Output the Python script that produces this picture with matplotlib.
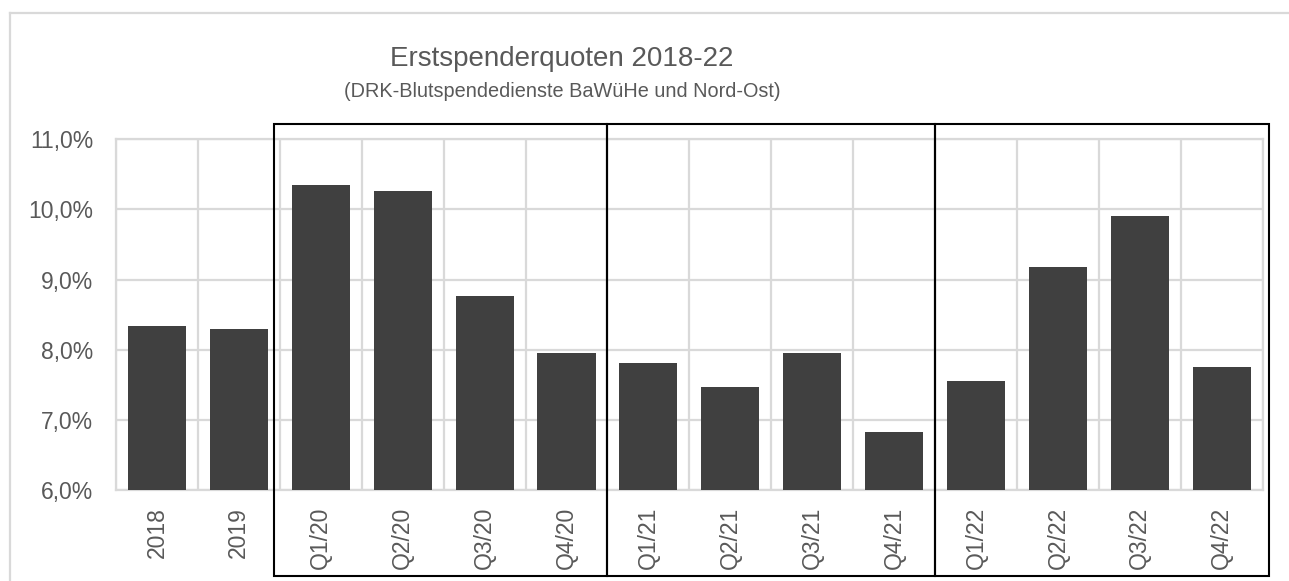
import matplotlib
matplotlib.use("Agg")
import matplotlib.pyplot as plt
from matplotlib.patches import Rectangle
from matplotlib.ticker import FuncFormatter, FixedLocator

plt.rcParams['font.family'] = ['Liberation Sans', 'DejaVu Sans']

labels = ["2018", "2019",
          "Q1/20", "Q2/20", "Q3/20", "Q4/20",
          "Q1/21", "Q2/21", "Q3/21", "Q4/21",
          "Q1/22", "Q2/22", "Q3/22", "Q4/22"]
quote = [8.34, 8.29,
         10.35, 10.26, 8.77, 7.95,
         7.81, 7.47, 7.96, 6.83,
         7.56, 9.18, 9.90, 7.76]
# quarterly groups framed in black (first, last bar index)
groups = [(2, 5), (6, 9), (10, 13)]

text_col = "#595959"
bar_col = "#404040"
grid_col = "#d9d9d9"

fig = plt.figure(figsize=(12.89, 5.81), dpi=100)
ax = fig.add_axes([0.09, 0.1566, 0.8896, 0.6036])

x = list(range(len(labels)))
ax.bar(x, quote, width=0.71, color=bar_col, zorder=3)

ax.set_xlim(-0.5, len(labels) - 0.5)
ax.set_ylim(6, 11)
ax.set_yticks([6, 7, 8, 9, 10, 11])
ax.yaxis.set_major_formatter(FuncFormatter(lambda v, p: f"{v:.1f}".replace(".", ",") + "%"))
ax.set_xticks(x)
ax.set_xticklabels(labels, rotation=90)
ax.xaxis.set_minor_locator(FixedLocator([i + 0.5 for i in range(-1, len(labels))]))

ax.grid(axis="y", which="major", color=grid_col, lw=1.6, zorder=0)
ax.grid(axis="x", which="minor", color=grid_col, lw=1.6, zorder=0)
ax.tick_params(which="both", length=0)
ax.tick_params(axis="y", pad=16.5, labelsize=16.5, labelcolor=text_col)
ax.tick_params(axis="x", pad=12, labelsize=16.5, labelcolor=text_col)
for s in ax.spines.values():
    s.set_color(grid_col)
    s.set_linewidth(1.6)

# black frames around each year of quarters
tr = ax.get_xaxis_transform()
for a, b in groups:
    left = a - 0.5 - (0.075 if a == 2 else 0)
    right = b + 0.5 + (0.075 if b == len(labels) - 1 else 0)
    ax.add_patch(Rectangle((left, -0.245), right - left, 1.2886, transform=tr,
                           fill=False, ec="black", lw=1.5, clip_on=False, zorder=5))

# outer chart border (top and left)
fig.add_artist(plt.Line2D([10 / 1289, 1.0], [1 - 13 / 581, 1 - 13 / 581],
                          color=grid_col, lw=1.6, transform=fig.transFigure))
fig.add_artist(plt.Line2D([10 / 1289, 10 / 1289], [0.0, 1 - 13 / 581],
                          color=grid_col, lw=1.6, transform=fig.transFigure))

fig.text(562 / 1289, 1 - 66 / 581, "Erstspenderquoten 2018-22", ha="center",
         va="baseline", fontsize=20, color=text_col)
fig.text(562 / 1289, 1 - 97 / 581, "(DRK-Blutspendedienste BaWüHe und Nord-Ost)",
         ha="center", va="baseline", fontsize=14.3, color=text_col)

fig.savefig("out.png", dpi=100)
